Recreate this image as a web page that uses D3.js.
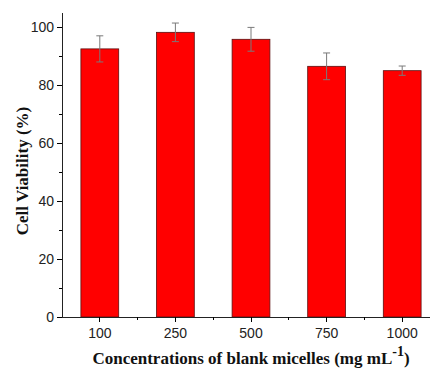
<!DOCTYPE html>
<html>
<head>
<meta charset="utf-8">
<script src="https://cdnjs.cloudflare.com/ajax/libs/d3/7.8.5/d3.min.js"></script>
<style>
  body { margin: 0; background: #fff; }
  svg { display: block; }
</style>
</head>
<body>
<div id="chart"></div>
<script>
// data
var concentrations = ["100", "250", "500", "750", "1000"];
var viability = [92.3, 98.0, 95.6, 86.3, 84.8];
var errors = [4.5, 3.2, 4.1, 4.6, 1.6];
var yTicks = [0, 20, 40, 60, 80, 100];

var W = 430, H = 371;
var margin = {top: 12, left: 62};
var plotH = 305; // 0 -> 105 mapped to 317 -> 12

var svg = d3.select("#chart").append("svg")
  .attr("width", W)
  .attr("height", H);

var g = svg.append("g")
  .attr("transform", `translate(${margin.left}, ${margin.top})`);

var xScale = d3.scaleBand()
  .domain(concentrations)
  .range([0, 5 * 75.6])
  .paddingInner(0.5)
  .paddingOuter(0.25);

var yScale = d3.scaleLinear()
  .domain([0, 105])
  .range([plotH, 0]);

//BARS
g.selectAll("rect.bar")
  .data(concentrations)
  .enter().append("rect")
  .attr("class", "bar")
  .attr("x", function(d) { return xScale(d); })
  .attr("width", xScale.bandwidth())
  .attr("y", function(d, i) { return yScale(viability[i]); })
  .attr("height", function(d, i) { return plotH - yScale(viability[i]); })
  .attr("fill", "#ff0000")
  .attr("stroke", "#5a1010")
  .attr("stroke-width", 0.8);

//ERROR BARS
var err = g.selectAll("g.err")
  .data(concentrations)
  .enter().append("g")
  .attr("class", "err")
  .attr("stroke", "#7a7a7a")
  .attr("stroke-width", 1);

err.append("line")
  .attr("x1", function(d) { return xScale(d) + xScale.bandwidth() / 2; })
  .attr("x2", function(d) { return xScale(d) + xScale.bandwidth() / 2; })
  .attr("y1", function(d, i) { return yScale(viability[i] + errors[i]); })
  .attr("y2", function(d, i) { return yScale(viability[i] - errors[i]); });

[1, -1].forEach(function(s) {
  err.append("line")
    .attr("x1", function(d) { return xScale(d) + xScale.bandwidth() / 2 - 3.5; })
    .attr("x2", function(d) { return xScale(d) + xScale.bandwidth() / 2 + 3.5; })
    .attr("y1", function(d, i) { return yScale(viability[i] + s * errors[i]); })
    .attr("y2", function(d, i) { return yScale(viability[i] + s * errors[i]); });
});

//Y AXIS (major + minor)
var yAxis = d3.axisLeft(yScale)
  .tickValues(yTicks)
  .tickSize(5)
  .tickSizeOuter(0)
  .tickPadding(3);

var yMinor = d3.axisLeft(yScale)
  .tickValues([10, 30, 50, 70, 90])
  .tickSize(3)
  .tickSizeOuter(0)
  .tickFormat("");

g.append("g").attr("class", "y_minor").call(yMinor);
g.append("g").attr("class", "y_axis").call(yAxis);

//X AXIS
var xAxis = d3.axisBottom(xScale)
  .tickSize(5)
  .tickSizeOuter(0)
  .tickPadding(6);

var xa = g.append("g")
  .attr("class", "x_axis")
  .attr("transform", `translate(0, ${plotH})`)
  .call(xAxis);

// minor ticks between bars
xa.selectAll("line.minor")
  .data(concentrations.slice(1))
  .enter().append("line")
  .attr("class", "minor")
  .attr("x1", function(d) { return xScale(d) - xScale.step() * 0.25; })
  .attr("x2", function(d) { return xScale(d) - xScale.step() * 0.25; })
  .attr("y1", 0)
  .attr("y2", 3)
  .attr("stroke", "#000");

svg.selectAll(".x_axis, .y_axis, .y_minor")
  .attr("shape-rendering", "crispEdges");
svg.selectAll(".x_axis path, .y_axis path, .y_minor path")
  .attr("stroke", "#222")
  .attr("stroke-width", 1.5);
svg.selectAll(".tick text")
  .attr("font-family", "Liberation Sans, Arial, sans-serif")
  .attr("font-size", 14)
  .attr("fill", "#222");

//AXIS TITLES
svg.append("text")
  .attr("transform", "translate(28, 171) rotate(-90)")
  .attr("text-anchor", "middle")
  .attr("font-family", "Liberation Serif, Times New Roman, serif")
  .attr("font-weight", "bold")
  .attr("font-size", 17)
  .attr("fill", "#111")
  .text("Cell Viability (%)");

var xt = svg.append("text")
  .attr("x", 251)
  .attr("y", 364)
  .attr("text-anchor", "middle")
  .attr("font-family", "Liberation Serif, Times New Roman, serif")
  .attr("font-weight", "bold")
  .attr("font-size", 17)
  .attr("fill", "#111");
xt.append("tspan").text("Concentrations of blank micelles (mg mL");
xt.append("tspan").attr("dy", -8).attr("font-size", 14).text("-1");
xt.append("tspan").attr("dy", 8).text(")");
</script>
</body>
</html>
